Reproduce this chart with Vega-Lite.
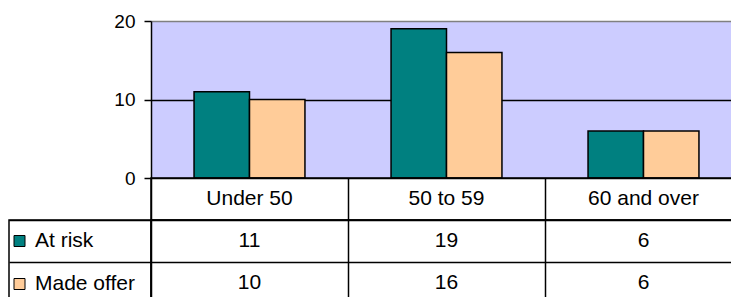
{
  "$schema": "https://vega.github.io/schema/vega-lite/v6.json",
  "padding": {"left": 8, "top": 12, "right": 0, "bottom": 0},
  "autosize": {"type": "pad"},
  "background": "white",
  "config": {
    "font": "Liberation Sans",
    "view": {"stroke": null},
    "axis": {"domainColor": "black", "tickColor": "black", "labelColor": "black"}
  },
  "datasets": {
    "t": [
      {"group": "Under 50", "series": "At risk", "value": 11},
      {"group": "Under 50", "series": "Made offer", "value": 10},
      {"group": "50 to 59", "series": "At risk", "value": 19},
      {"group": "50 to 59", "series": "Made offer", "value": 16},
      {"group": "60 and over", "series": "At risk", "value": 6},
      {"group": "60 and over", "series": "Made offer", "value": 6}
    ]
  },
  "columns": 2,
  "spacing": 0,
  "bounds": "flush",
  "align": "each",
  "resolve": {"scale": {"x": "independent", "y": "independent", "color": "independent"}},
  "concat": [
    {
      "width": 142, "height": 157,
      "data": {"values": []},
      "mark": "point",
      "encoding": {}
    },
    {
      "width": 591, "height": 157,
      "data": {"name": "t"},
      "view": {"fill": "#CCCCFF", "stroke": null},
      "mark": {"type": "bar", "stroke": "black", "strokeWidth": 1.5},
      "encoding": {
        "x": {"field": "group", "type": "nominal", "sort": null,
              "scale": {"domain": ["Under 50", "50 to 59", "60 and over"], "paddingInner": 0.437, "paddingOuter": 0.2185},
              "axis": null},
        "xOffset": {"field": "series", "type": "nominal",
              "scale": {"domain": ["At risk", "Made offer"], "paddingInner": 0, "paddingOuter": 0}},
        "y": {"field": "value", "type": "quantitative",
              "scale": {"domain": [0, 20], "nice": false},
              "axis": {"values": [0, 10, 20], "title": null, "tickSize": 7, "labelFontSize": 19, "labelPadding": 9,
                       "grid": true, "gridColor": {"condition": {"test": "datum.value == 20", "value": "#808080"}, "value": "black"},
                       "gridWidth": 1.5, "domainWidth": 1.5, "tickWidth": 1.5}},
        "color": {"field": "series", "type": "nominal",
                  "scale": {"domain": ["At risk", "Made offer"], "range": ["#008080", "#FFCC99"]}, "legend": null}
      }
    },
    {
      "width": 142, "height": 42,
      "data": {"values": []},
      "mark": "point",
      "encoding": {}
    },
    {
      "width": 591, "height": 42,
      "data": {"name": "t"},
      "transform": [{"filter": "datum.series == 'At risk'"}],
      "view": {"stroke": "black", "strokeWidth": 1.5},
      "mark": {"type": "text", "fontSize": 21, "color": "black"},
      "encoding": {
        "x": {"field": "group", "type": "nominal", "sort": null,
              "scale": {"domain": ["Under 50", "50 to 59", "60 and over"], "paddingInner": 0, "paddingOuter": 0},
              "axis": {"tickBand": "extent", "grid": true, "gridColor": "black", "gridWidth": 1.5, "labels": false, "ticks": false, "domain": false, "title": null}},
        "text": {"field": "group"}
      }
    },
    {
      "width": 142, "height": 84,
      "data": {"name": "t"},
      "transform": [{"filter": "datum.group == 'Under 50'"}],
      "view": {"stroke": "black", "strokeWidth": 1.5},
      "mark": {"type": "square", "opacity": 0},
      "encoding": {
        "y": {"field": "series", "type": "nominal", "sort": null,
              "scale": {"domain": ["At risk", "Made offer"], "paddingInner": 0, "paddingOuter": 0},
              "axis": {"tickBand": "extent", "grid": true, "gridColor": "black", "gridWidth": 1.5, "labels": false, "ticks": false, "domain": false, "title": null}},
        "color": {"field": "series", "type": "nominal",
                  "scale": {"domain": ["At risk", "Made offer"], "range": ["#008080", "#FFCC99"]},
                  "legend": {"orient": "none", "legendX": 0, "legendY": 10.5, "title": null, "symbolType": "square",
                             "symbolSize": 121, "symbolStrokeColor": "black", "symbolStrokeWidth": 1, "symbolOpacity": 1,
                             "labelFontSize": 21, "labelOffset": 5, "rowPadding": 21, "padding": 0, "labelColor": "black",
                             "encode": {"symbols": {"update": {"stroke": {"value": "black"}, "strokeWidth": {"value": 1}, "opacity": {"value": 1}}}}}}
      }
    },
    {
      "width": 591, "height": 84,
      "data": {"name": "t"},
      "view": {"stroke": "black", "strokeWidth": 1.5},
      "mark": {"type": "text", "fontSize": 21, "color": "black"},
      "encoding": {
        "x": {"field": "group", "type": "nominal", "sort": null,
              "scale": {"domain": ["Under 50", "50 to 59", "60 and over"], "paddingInner": 0, "paddingOuter": 0},
              "axis": {"tickBand": "extent", "grid": true, "gridColor": "black", "gridWidth": 1.5, "labels": false, "ticks": false, "domain": false, "title": null}},
        "y": {"field": "series", "type": "nominal", "sort": null,
              "scale": {"domain": ["At risk", "Made offer"], "paddingInner": 0, "paddingOuter": 0},
              "axis": {"tickBand": "extent", "grid": true, "gridColor": "black", "gridWidth": 1.5, "labels": false, "ticks": false, "domain": false, "title": null}},
        "text": {"field": "value", "type": "quantitative"}
      }
    }
  ]
}
